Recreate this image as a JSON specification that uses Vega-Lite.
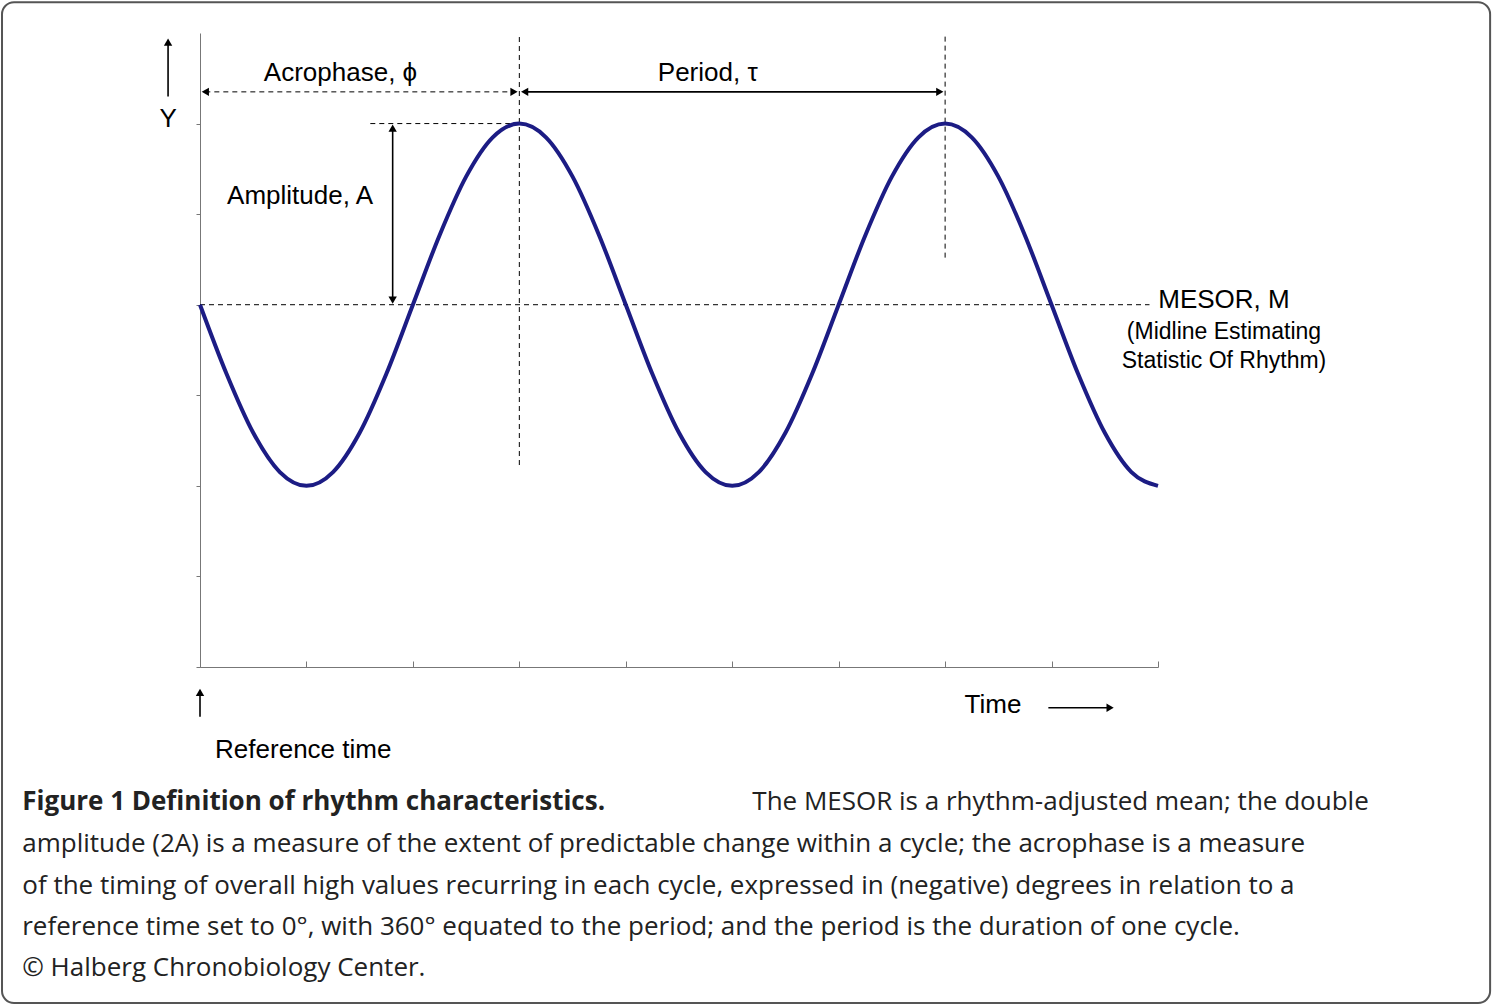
{
  "$schema": "https://vega.github.io/schema/vega-lite/v6.json",
  "width": 958,
  "height": 634,
  "autosize": "none",
  "padding": {"left": 200, "top": 33, "right": 335, "bottom": 338},
  "background": "white",
  "config": {"view": {"stroke": null}, "font": "Liberation Sans"},
  "datasets": {
    "curve": [
      {"t": 0, "y": 4}, {"t": 0.25, "y": 3.235}, {"t": 0.5, "y": 2.586}, {"t": 0.75, "y": 2.152},
      {"t": 1, "y": 2}, {"t": 1.25, "y": 2.152}, {"t": 1.5, "y": 2.586}, {"t": 1.75, "y": 3.235},
      {"t": 2, "y": 4}, {"t": 2.25, "y": 4.765}, {"t": 2.5, "y": 5.414}, {"t": 2.75, "y": 5.848},
      {"t": 3, "y": 6}, {"t": 3.25, "y": 5.848}, {"t": 3.5, "y": 5.414}, {"t": 3.75, "y": 4.765},
      {"t": 4, "y": 4}, {"t": 4.25, "y": 3.235}, {"t": 4.5, "y": 2.586}, {"t": 4.75, "y": 2.152},
      {"t": 5, "y": 2}, {"t": 5.25, "y": 2.152}, {"t": 5.5, "y": 2.586}, {"t": 5.75, "y": 3.235},
      {"t": 6, "y": 4}, {"t": 6.25, "y": 4.765}, {"t": 6.5, "y": 5.414}, {"t": 6.75, "y": 5.848},
      {"t": 7, "y": 6}, {"t": 7.25, "y": 5.848}, {"t": 7.5, "y": 5.414}, {"t": 7.75, "y": 4.765},
      {"t": 8, "y": 4}, {"t": 8.25, "y": 3.235}, {"t": 8.5, "y": 2.586}, {"t": 8.75, "y": 2.152},
      {"t": 9, "y": 2}
    ],
    "rules": [
      {"x": 3, "x2": 3, "y": 2.23, "y2": 7, "s": "dash"},
      {"x": 7, "x2": 7, "y": 4.52, "y2": 7, "s": "dash"},
      {"x": 0, "x2": 8.92, "y": 4, "y2": 4, "s": "dash"},
      {"x": 1.6, "x2": 3, "y": 6, "y2": 6, "s": "dash"},
      {"x": 0.05, "x2": 2.95, "y": 6.35, "y2": 6.35, "s": "dash"},
      {"x": 3.05, "x2": 6.95, "y": 6.35, "y2": 6.35, "s": "solid"},
      {"x": 1.81, "x2": 1.81, "y": 4.05, "y2": 5.95, "s": "solid"},
      {"x": -0.3, "x2": -0.3, "y": 6.3, "y2": 6.9, "s": "solid"},
      {"x": 0, "x2": 0, "y": -0.55, "y2": -0.28, "s": "solid"},
      {"x": 7.97, "x2": 8.55, "y": -0.45, "y2": -0.45, "s": "solid"}
    ],
    "heads": [
      {"x": 0.05, "y": 6.35, "shape": "triangle-left"},
      {"x": 2.95, "y": 6.35, "shape": "triangle-right"},
      {"x": 3.05, "y": 6.35, "shape": "triangle-left"},
      {"x": 6.95, "y": 6.35, "shape": "triangle-right"},
      {"x": 1.81, "y": 4.05, "shape": "triangle-down"},
      {"x": 1.81, "y": 5.95, "shape": "triangle-up"},
      {"x": -0.3, "y": 6.9, "shape": "triangle-up"},
      {"x": 0, "y": -0.28, "shape": "triangle-up"},
      {"x": 8.55, "y": -0.45, "shape": "triangle-right"}
    ],
    "labels": [
      {"x": 1.32, "y": 6.56, "text": "Acrophase,  ϕ", "size": 26},
      {"x": 4.77, "y": 6.56, "text": "Period,  τ", "size": 26},
      {"x": 0.94, "y": 5.2, "text": "Amplitude,  A", "size": 26},
      {"x": -0.3, "y": 6.05, "text": "Y", "size": 26},
      {"x": 9.62, "y": 4.05, "text": "MESOR, M", "size": 26},
      {"x": 9.62, "y": 3.7, "text": "(Midline Estimating", "size": 23},
      {"x": 9.62, "y": 3.38, "text": "Statistic Of Rhythm)", "size": 23},
      {"x": 7.45, "y": -0.42, "text": "Time", "size": 26},
      {"x": 0.97, "y": -0.92, "text": "Reference  time", "size": 26}
    ],
    "caption": [
      {"x": -1.67, "y": -1.95, "text": "amplitude (2A) is a measure of the extent of predictable change within a cycle; the acrophase is a measure"},
      {"x": -1.67, "y": -2.42, "text": "of the timing of overall high values recurring in each cycle, expressed in (negative) degrees in relation to a"},
      {"x": -1.67, "y": -2.87, "text": "reference time set to 0°, with 360° equated to the period; and the period is the duration of one cycle."},
      {"x": -1.67, "y": -3.32, "text": "© Halberg Chronobiology Center."}
    ],
    "captionRight": [
      {"x": 10.98, "y": -1.49, "text": "The MESOR is a rhythm-adjusted mean; the double"}
    ],
    "captionBold": [
      {"x": -1.67, "y": -1.49, "text": "Figure 1 Definition of rhythm characteristics."}
    ],
    "frame": [{"x": -1.86, "x2": 12.12, "y": 7.34, "y2": -3.71}]
  },
  "layer": [
    {
      "data": {"name": "frame"},
      "mark": {"type": "rect", "fill": null, "stroke": "#555", "strokeWidth": 2, "cornerRadius": 12},
      "encoding": {
        "x": {"field": "x", "type": "quantitative", "scale": {"domain": [0, 9]},
          "axis": {"values": [0,1,2,3,4,5,6,7,8,9], "labels": false, "title": null, "grid": false, "domainColor": "#777", "tickColor": "#777", "tickSize": -6}},
        "x2": {"field": "x2"},
        "y": {"field": "y", "type": "quantitative", "scale": {"domain": [0, 7]},
          "axis": {"values": [0,1,2,3,4,5,6], "labels": false, "title": null, "grid": false, "domainColor": "#777", "tickColor": "#777", "tickSize": 4}},
        "y2": {"field": "y2"}
      }
    },
    {
      "data": {"name": "rules"},
      "mark": {"type": "rule", "color": "black"},
      "encoding": {
        "x": {"field": "x", "type": "quantitative"},
        "x2": {"field": "x2"},
        "y": {"field": "y", "type": "quantitative"},
        "y2": {"field": "y2"},
        "strokeDash": {"field": "s", "type": "nominal", "scale": {"domain": ["dash", "solid"], "range": [[5, 4], [1, 0]]}, "legend": null},
        "strokeWidth": {"field": "s", "type": "nominal", "scale": {"domain": ["dash", "solid"], "range": [1, 1.6]}, "legend": null}
      }
    },
    {
      "data": {"name": "heads"},
      "mark": {"type": "point", "filled": true, "color": "black", "size": 70, "opacity": 1},
      "encoding": {
        "x": {"field": "x", "type": "quantitative"},
        "y": {"field": "y", "type": "quantitative"},
        "shape": {"field": "shape", "type": "nominal", "scale": null}
      }
    },
    {
      "data": {"name": "curve"},
      "mark": {"type": "line", "color": "#1c1c84", "strokeWidth": 4, "interpolate": "monotone"},
      "encoding": {
        "x": {"field": "t", "type": "quantitative"},
        "y": {"field": "y", "type": "quantitative"}
      }
    },
    {
      "data": {"name": "labels"},
      "mark": {"type": "text", "baseline": "middle", "align": "center", "color": "black", "font": "Liberation Sans"},
      "encoding": {
        "x": {"field": "x", "type": "quantitative"},
        "y": {"field": "y", "type": "quantitative"},
        "text": {"field": "text"},
        "size": {"field": "size", "type": "quantitative", "scale": null}
      }
    },
    {
      "data": {"name": "caption"},
      "mark": {"type": "text", "baseline": "middle", "align": "left", "color": "#222", "font": "Open Sans", "fontSize": 26},
      "encoding": {
        "x": {"field": "x", "type": "quantitative"},
        "y": {"field": "y", "type": "quantitative"},
        "text": {"field": "text"}
      }
    },
    {
      "data": {"name": "captionRight"},
      "mark": {"type": "text", "baseline": "middle", "align": "right", "color": "#222", "font": "Open Sans", "fontSize": 26},
      "encoding": {
        "x": {"field": "x", "type": "quantitative"},
        "y": {"field": "y", "type": "quantitative"},
        "text": {"field": "text"}
      }
    },
    {
      "data": {"name": "captionBold"},
      "mark": {"type": "text", "baseline": "middle", "align": "left", "color": "#222", "font": "Open Sans", "fontSize": 26, "fontWeight": "bold"},
      "encoding": {
        "x": {"field": "x", "type": "quantitative"},
        "y": {"field": "y", "type": "quantitative"},
        "text": {"field": "text"}
      }
    }
  ]
}
